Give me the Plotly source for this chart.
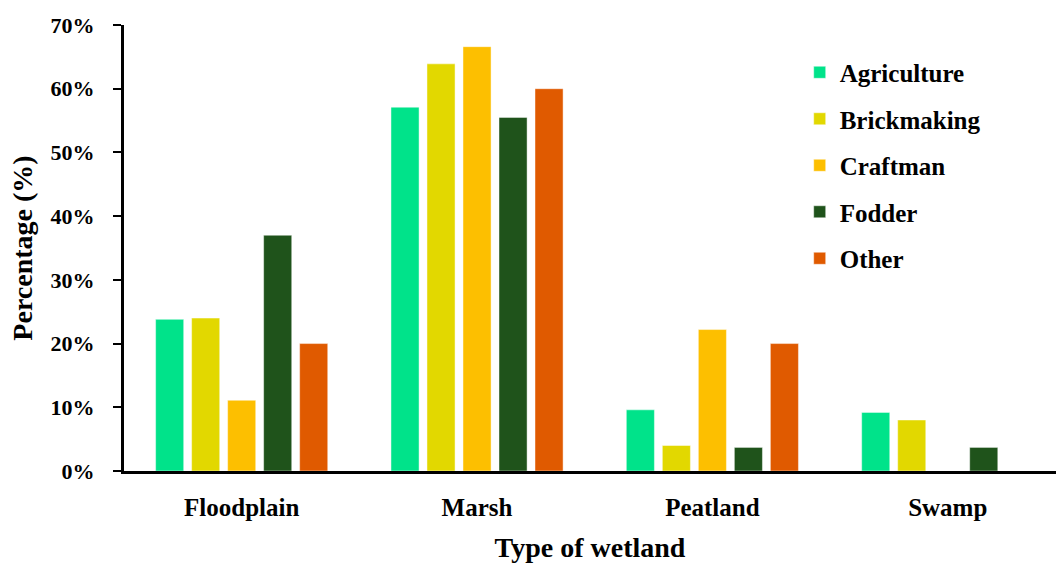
import plotly.graph_objects as go

# Wetland types on the x axis
wetlands = ["Floodplain", "Marsh", "Peatland", "Swamp"]

# Share of respondents (%) per use, for each wetland type
agriculture = [23.8, 57.1, 9.6, 9.2]
brickmaking = [24.0, 63.9, 4.0, 8.0]
craftman = [11.1, 66.6, 22.2, 0.0]
fodder = [37.0, 55.5, 3.7, 3.7]
other = [20.0, 60.0, 20.0, 0.0]

series = [
    ("Agriculture", agriculture, "#00E38A"),
    ("Brickmaking", brickmaking, "#E2D800"),
    ("Craftman", craftman, "#FDBF00"),
    ("Fodder", fodder, "#1F531B"),
    ("Other", other, "#E05A00"),
]

FONT = "Liberation Serif, serif"

fig = go.Figure()
for name, vals, color in series:
    fig.add_trace(go.Bar(
        name=name,
        x=wetlands,
        y=[v / 100 for v in vals],
        marker=dict(color=color, line=dict(color="rgba(255,255,255,0.45)", width=1)),
        legendgroup=name,
    ))

fig.update_layout(
    width=1056,
    height=566,
    margin=dict(l=124, r=0, t=25, b=95),
    paper_bgcolor="white",
    plot_bgcolor="white",
    barmode="group",
    bargap=0.235,
    bargroupgap=0.22,
    font=dict(family=FONT, size=22, color="black"),
    showlegend=True,
    legend=dict(
        x=0.725, y=0.945, xanchor="left", yanchor="top",
        font=dict(family=FONT, size=25, color="black", weight="bold"),
        tracegroupgap=11,
        traceorder="grouped",
        bgcolor="rgba(0,0,0,0)",
    ),
    xaxis=dict(
        range=[-0.5, 3.46],
        showline=True, linecolor="black", linewidth=3,
        ticks="", showgrid=False,
        ticklabelstandoff=12,
        tickfont=dict(family=FONT, size=25, color="black", weight="bold"),
        title=dict(text="Type of wetland", standoff=18,
                   font=dict(family=FONT, size=28, color="black", weight="bold")),
    ),
    yaxis=dict(
        range=[0, 0.7],
        dtick=0.1,
        tickformat=".0%",
        showline=True, linecolor="black", linewidth=3,
        ticks="outside", ticklen=8, tickwidth=2, tickcolor="black",
        ticklabelstandoff=14,
        showgrid=False, zeroline=False,
        tickfont=dict(family=FONT, size=22, color="black", weight="bold"),
        title=dict(text="Percentage (%)", standoff=10,
                   font=dict(family=FONT, size=28, color="black", weight="bold")),
    ),
)

fig.write_html("out.html")
